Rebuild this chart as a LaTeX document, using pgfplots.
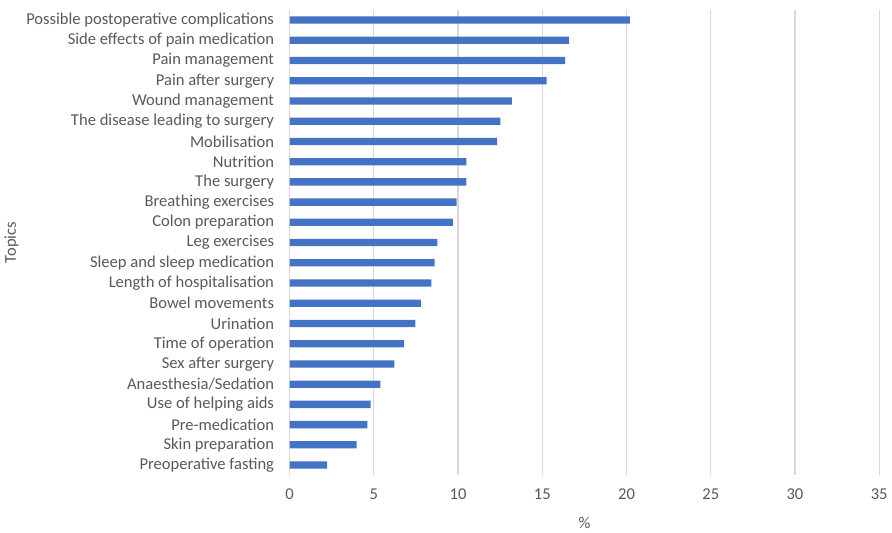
\documentclass[border=0pt]{standalone}
\usepackage{pgfplots}
\pgfplotsset{compat=1.18}
\usepackage{fontspec}
\setmainfont{Carlito}
\definecolor{barblue}{HTML}{4472C4}
\definecolor{gridgray}{HTML}{D9D9D9}
\definecolor{txtgray}{HTML}{595959}
\begin{document}
\begin{tikzpicture}
\begin{axis}[
  scale only axis,
  width=444.75pt, height=351pt,
  xbar, bar width=5.5pt,
  xmin=0, xmax=35,
  ymin=-0.5, ymax=22.5,
  y dir=reverse,
  xtick={0,5,...,35},
  ytick={0,...,22},
  yticklabels={Possible postoperative complications, Side effects of pain medication, Pain management, Pain after surgery, Wound management, The disease leading to surgery, Mobilisation, Nutrition, The surgery, Breathing exercises, Colon preparation, Leg exercises, Sleep and sleep medication, Length of hospitalisation, Bowel movements, Urination, Time of operation, Sex after surgery, Anaesthesia/Sedation, Use of helping aids, Pre-medication, Skin preparation, Preoperative fasting},
  xmajorgrids, major grid style={gridgray, line width=0.9pt},
  axis line style={draw=none},
  tick style={draw=none},
  ticklabel style={font=\fontsize{12.5}{14}\selectfont, text=txtgray},
  /pgf/number format/assume math mode=true,
  xticklabel style={yshift=-7pt},
  yticklabel style={xshift=-4pt},
  xlabel={\%}, ylabel={Topics},
  label style={font=\fontsize{12.5}{14}\selectfont, text=txtgray},
  xlabel style={yshift=-6pt},
  ylabel style={yshift=-1pt},
]
\addplot[fill=barblue, draw=none] coordinates {
(20.2,0) (16.57,1) (16.35,2) (15.26,3) (13.2,4) (12.51,5) (12.32,6) (10.49,7) (10.49,8) (9.92,9) (9.69,10) (8.77,11) (8.61,12) (8.41,13) (7.79,14) (7.47,15) (6.79,16) (6.22,17) (5.38,18) (4.81,19) (4.61,20) (3.98,21) (2.22,22)
};
\draw[gridgray, line width=0.9pt] (axis cs:0,-0.5) -- (axis cs:0,22.5);
\end{axis}
\path (current axis.north east) ++(0,7.5pt);
\path (current axis.south west) ++(-216.75pt,-41.25pt);
\end{tikzpicture}
\end{document}
